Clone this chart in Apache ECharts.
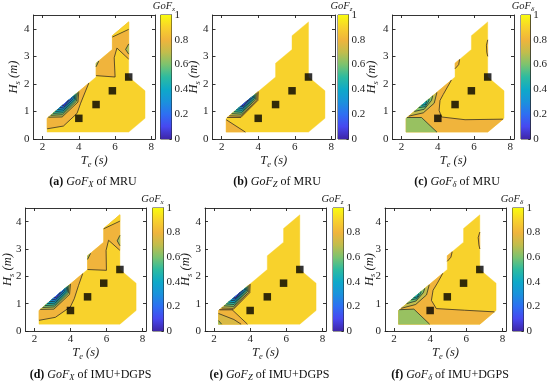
<!DOCTYPE html>
<html><head><meta charset="utf-8">
<script src="https://cdn.jsdelivr.net/npm/echarts@6/dist/echarts.min.js"></script>
<style>html,body{margin:0;padding:0;background:#fff}#c{width:550px;height:385px}</style>
</head><body><div id="c"></div>
<script>
// ---------- data ----------
const xTicks = [2, 4, 6, 8];
const yTicks = [0, 1, 2, 3, 4];
const cbTicks = [0, 0.2, 0.4, 0.6, 0.8, 1];
const xRange = [1.5, 8.2];
const yRange = [0, 4.5];
// measured sea-state domain (Te, Hs)
const domain = [[2.25,0.25],[6.75,0.25],[7.65,0.75],[7.65,1.75],[6.75,2.25],[6.75,4.25],[5.85,3.75],[5.85,3.25],[4.95,2.75],[4.95,2.25],[2.25,0.75]];
const baseLevel = 0.9;
// black squares
const markerTe = [4.0, 4.95, 5.85, 6.75];
const markerHs = [0.75, 1.25, 1.75, 2.25];
// contour regions: [level, number of leading points forming the contour line, polygon points (Te, Hs)]
const regionsA = [
  [0.8, 5, [[2.25,0.37],[3.15,0.47],[3.9,0.93],[4.1,1.3],[4.55,2.03],[2.25,0.75]]],
  [0.7, 4, [[2.32,0.79],[3.08,0.8],[3.95,1.34],[4.0,1.72]]],
  [0.6, 4, [[2.45,0.86],[3.1,0.88],[3.88,1.38],[3.92,1.68]]],
  [0.5, 4, [[2.58,0.93],[3.12,0.95],[3.82,1.42],[3.85,1.64]]],
  [0.4, 4, [[2.7,1.0],[3.14,1.02],[3.75,1.44],[3.78,1.6]]],
  [0.3, 4, [[2.82,1.07],[3.16,1.09],[3.68,1.46],[3.7,1.56]]],
  [0.2, 4, [[2.95,1.14],[3.18,1.16],[3.6,1.47],[3.62,1.51]]],
  [0.1, 3, [[3.08,1.21],[3.22,1.23],[3.45,1.42]]],
  [0.8, 5, [[4.95,2.3],[6.0,2.25],[5.95,2.95],[6.1,3.3],[6.75,2.9],[6.75,4.25],[5.85,3.75],[5.85,3.25],[4.95,2.75]]],
  [0.9, 2, [[5.85,3.7],[6.75,3.98],[6.75,4.25],[5.85,3.75]]],
  [0.66, 3, [[6.75,3.45],[6.58,3.25],[6.75,3.08]]],
  [0.66, 2, [[4.95,2.62],[5.1,2.83],[4.95,2.75]]]
];
const regionsB = [
  [0.8, 2, [[2.25,0.7],[3.3,0.25],[2.25,0.25]]],
  [0.8, 4, [[2.3,0.78],[3.05,0.78],[3.98,1.4],[4.0,1.72]]],
  [0.7, 4, [[2.42,0.84],[3.07,0.83],[3.92,1.42],[3.94,1.68]]],
  [0.6, 4, [[2.55,0.92],[3.09,0.9],[3.86,1.45],[3.88,1.65]]],
  [0.5, 4, [[2.68,0.99],[3.11,0.97],[3.8,1.47],[3.82,1.61]]],
  [0.4, 4, [[2.8,1.06],[3.13,1.04],[3.74,1.49],[3.76,1.58]]],
  [0.3, 4, [[2.92,1.12],[3.15,1.11],[3.68,1.5],[3.69,1.55]]],
  [0.2, 3, [[3.02,1.18],[3.17,1.17],[3.6,1.5]]],
  [0.1, 3, [[3.1,1.22],[3.2,1.22],[3.45,1.42]]]
];
const regionsC = [
  [0.8, 7, [[4.75,2.14],[4.3,1.62],[4.12,1.4],[4.07,1.04],[4.2,0.8],[5.5,0.7],[7.6,0.72],[6.75,0.25],[2.25,0.25],[2.25,0.75]]],
  [0.64, 3, [[2.3,0.78],[3.1,0.78],[3.95,0.25],[2.25,0.25],[2.25,0.75]]],
  [0.7, 4, [[2.4,0.83],[3.2,0.95],[3.8,1.3],[3.95,1.69]]],
  [0.6, 4, [[2.7,1.0],[3.25,1.08],[3.65,1.4],[3.72,1.57]]],
  [0.5, 4, [[2.95,1.14],[3.3,1.17],[3.5,1.38],[3.52,1.455]]],
  [0.42, 3, [[3.1,1.22],[3.32,1.25],[3.38,1.378]]],
  [0.8, 3, [[4.95,2.55],[5.15,2.7],[5.2,2.89],[4.95,2.75]]],
  [0.8, 4, [[6.75,3.6],[6.68,3.4],[6.7,3.15],[6.75,3.0]]]
];
const regionsD = [
  [0.8, 6, [[2.25,0.39],[3.16,0.5],[3.99,0.88],[4.21,1.18],[4.45,1.67],[4.68,2.1],[2.25,0.75]]],
  [0.7, 4, [[2.32,0.79],[3.08,0.8],[3.95,1.34],[4.0,1.72]]],
  [0.6, 4, [[2.45,0.86],[3.1,0.88],[3.88,1.38],[3.92,1.68]]],
  [0.5, 4, [[2.58,0.93],[3.12,0.95],[3.82,1.42],[3.85,1.64]]],
  [0.4, 4, [[2.7,1.0],[3.14,1.02],[3.75,1.44],[3.78,1.6]]],
  [0.3, 4, [[2.82,1.07],[3.16,1.09],[3.68,1.46],[3.7,1.56]]],
  [0.2, 4, [[2.95,1.14],[3.18,1.16],[3.6,1.47],[3.62,1.51]]],
  [0.1, 3, [[3.08,1.21],[3.22,1.23],[3.45,1.42]]],
  [0.8, 5, [[4.95,2.25],[6.0,2.22],[5.98,2.95],[6.12,3.32],[6.75,2.95],[6.75,4.25],[5.85,3.75],[5.85,3.25],[4.95,2.75]]],
  [0.9, 2, [[5.85,3.74],[6.75,4.02],[6.75,4.25],[5.85,3.75]]],
  [0.66, 3, [[6.75,3.5],[6.6,3.3],[6.75,3.12]]],
  [0.66, 2, [[4.95,2.62],[5.12,2.84],[4.95,2.75]]]
];
const regionsE = [
  [0.8, 3, [[2.3,0.78],[3.0,0.78],[3.85,0.25],[2.25,0.25],[2.25,0.75]]],
  [0.75, 3, [[2.25,0.64],[3.1,0.42],[3.5,0.25],[2.25,0.25]]],
  [0.64, 2, [[2.25,0.38],[2.42,0.25],[2.25,0.25]]],
  [0.8, 4, [[2.3,0.78],[3.05,0.78],[3.98,1.4],[4.0,1.72]]],
  [0.7, 4, [[2.42,0.84],[3.07,0.83],[3.92,1.42],[3.94,1.68]]],
  [0.6, 4, [[2.55,0.92],[3.09,0.9],[3.86,1.45],[3.88,1.65]]],
  [0.5, 4, [[2.68,0.99],[3.11,0.97],[3.8,1.47],[3.82,1.61]]],
  [0.4, 4, [[2.8,1.06],[3.13,1.04],[3.74,1.49],[3.76,1.58]]],
  [0.3, 4, [[2.92,1.12],[3.15,1.11],[3.68,1.5],[3.69,1.55]]],
  [0.2, 3, [[3.02,1.18],[3.17,1.17],[3.6,1.5]]],
  [0.1, 3, [[3.1,1.22],[3.2,1.22],[3.45,1.42]]]
];
const regionsF = [
  [0.8, 7, [[4.7,2.11],[4.4,1.75],[4.16,1.49],[4.07,1.12],[4.34,0.82],[5.91,0.76],[7.56,0.7],[6.75,0.25],[2.25,0.25],[2.25,0.75]]],
  [0.64, 3, [[2.3,0.78],[3.1,0.8],[3.97,0.25],[2.25,0.25],[2.25,0.75]]],
  [0.7, 4, [[2.4,0.83],[3.2,0.97],[3.8,1.32],[3.95,1.69]]],
  [0.6, 4, [[2.7,1.0],[3.22,1.1],[3.62,1.4],[3.7,1.56]]],
  [0.5, 4, [[2.95,1.14],[3.27,1.18],[3.48,1.38],[3.5,1.445]]],
  [0.42, 3, [[3.08,1.21],[3.3,1.25],[3.36,1.367]]],
  [0.8, 3, [[4.95,2.55],[5.15,2.7],[5.22,2.9],[4.95,2.75]]],
  [0.8, 4, [[6.75,3.62],[6.66,3.42],[6.7,3.15],[6.75,3.0]]]
];
const panelLetters = ['a','b','c','d','e','f'];
const captionSub = ['X','Z','δ','X','Z','δ'];
const barSub = ['x','z','δ','x','z','δ'];
const sensorNames = ['MRU','MRU','MRU','IMU+DGPS','IMU+DGPS','IMU+DGPS'];
const allRegions = [regionsA, regionsB, regionsC, regionsD, regionsE, regionsF];

// ---------- styling / layout ----------
const parula = [[0,'#3e26a8'],[0.1,'#4748f0'],[0.2,'#2e6ff2'],[0.3,'#1a92dc'],[0.4,'#0ea9c8'],[0.5,'#2dbba0'],[0.6,'#7cc36f'],[0.7,'#c2bd4c'],[0.8,'#f0b43c'],[0.9,'#f8d22c'],[1,'#f9fb0e']];
function hex2rgb(h){return [parseInt(h.slice(1,3),16),parseInt(h.slice(3,5),16),parseInt(h.slice(5,7),16)];}
function cmap(v){
  for(let i=1;i<parula.length;i++){
    if(v<=parula[i][0]){
      const a=parula[i-1],b=parula[i];const t=(v-a[0])/(b[0]-a[0]);
      const ca=hex2rgb(a[1]),cb=hex2rgb(b[1]);
      return 'rgb('+ca.map((c,k)=>Math.round(c+(cb[k]-c)*t)).join(',')+')';
    }
  }
  return parula[parula.length-1][1];
}
const SERIF = '"Liberation Serif","DejaVu Serif",serif';
const AX = '#1e1e1e';
const plotBoxes = [
  {l:33.5,t:15,w:121.5,h:124},{l:212.5,t:15,w:122.5,h:124},{l:392.5,t:15,w:121.5,h:124},
  {l:25.5,t:208,w:120.5,h:123},{l:205,t:208,w:121,h:123},{l:385,t:208,w:121,h:123}];
const barBoxes = [{l:160.5,w:11},{l:338,w:10.5},{l:521,w:10},{l:152.5,w:11},{l:333,w:10.5},{l:512.5,w:11}];
const txt = [
  {hsX:14,capX:93,btX:164},{hsX:194,capX:277,btX:341.5},{hsX:372,capX:457,btX:523},
  {hsX:8,capX:90.5,btX:152.5},{hsX:186,capX:269.5,btX:332.5},{hsX:369.5,capX:450,btX:512}];

const grid=[], xAxis=[], yAxis=[], series=[], graphic=[];
const tickStyle = {color:AX,width:0.9};
const TICKFS = 11;
plotBoxes.forEach((b,i)=>{
  grid.push({left:b.l, top:b.t, width:b.w, height:b.h});
  const common = {gridIndex:i, type:'value', splitLine:{show:false}, axisLine:{show:true,onZero:false,lineStyle:{color:AX,width:0.9}}};
  xAxis.push(Object.assign({}, common, {min:xRange[0], max:xRange[1], position:'bottom',
    axisTick:{show:true,inside:true,length:3,customValues:xTicks,lineStyle:tickStyle},
    axisLabel:{customValues:xTicks,fontFamily:SERIF,fontSize:TICKFS,color:AX,margin:3}}));
  xAxis.push(Object.assign({}, common, {min:xRange[0], max:xRange[1], position:'top',
    axisTick:{show:true,inside:true,length:3,customValues:xTicks,lineStyle:tickStyle}, axisLabel:{show:false}}));
  yAxis.push(Object.assign({}, common, {min:yRange[0], max:yRange[1], position:'left',
    axisTick:{show:true,inside:true,length:3,customValues:yTicks,lineStyle:tickStyle},
    axisLabel:{customValues:yTicks,fontFamily:SERIF,fontSize:TICKFS,color:AX,margin:4}}));
  yAxis.push(Object.assign({}, common, {min:yRange[0], max:yRange[1], position:'right',
    axisTick:{show:true,inside:true,length:3,customValues:yTicks,lineStyle:tickStyle}, axisLabel:{show:false}}));

  const all = [[baseLevel, 0, domain]].concat(allRegions[i]);
  series.push({type:'custom', xAxisIndex:2*i, yAxisIndex:2*i, silent:true, animation:false, z:2,
    data: all.map((r,k)=>[k,0]),
    renderItem(params, api){
      const r = all[api.value(0)];
      const pts = r[2].map(p=>api.coord(p));
      const col = cmap(r[0]);
      const children=[{type:'polygon', shape:{points:pts}, style:{fill:col, stroke:col, lineWidth:0.4}}];
      if(r[1]>1) children.push({type:'polyline', shape:{points:pts.slice(0,r[1])}, style:{stroke:'#1e1e1e', lineWidth:0.7, fill:null}});
      return {type:'group', children};
    }});
  series.push({type:'scatter', xAxisIndex:2*i, yAxisIndex:2*i, symbol:'rect', symbolSize:7.5, silent:true, animation:false, z:3,
    itemStyle:{color:'#000'}, data: markerTe.map((t,k)=>[t, markerHs[k]])});

  // axis titles & captions
  const t = txt[i];
  const cx = b.l + b.w/2, cy = b.t + b.h/2;
  const row2 = i>=3;
  graphic.push({type:'text', x:cx, y: row2?353:161, silent:true, style:{
    text:'{i|T}{s|e}{i| (s)}', align:'center', verticalAlign:'middle',
    rich:{i:{fontFamily:SERIF,fontStyle:'italic',fontSize:12.5,fill:'#222'}, s:{fontFamily:SERIF,fontStyle:'italic',fontSize:8.5,fill:'#222',padding:[7,0,0,0]}}}});
  graphic.push({type:'text', x:t.hsX, y:cy, rotation:Math.PI/2, silent:true, style:{
    text:'{i|H}{s|s}{i| (m)}', align:'center', verticalAlign:'middle',
    rich:{i:{fontFamily:SERIF,fontStyle:'italic',fontSize:12.5,fill:'#222'}, s:{fontFamily:SERIF,fontStyle:'italic',fontSize:8.5,fill:'#222',padding:[7,0,0,0]}}}});
  graphic.push({type:'text', x:t.capX, y: row2?375:182, silent:true, style:{
    text:'{b|('+panelLetters[i]+')}{r| }{i|GoF}{s|'+captionSub[i]+'}{r| of '+sensorNames[i]+'}', align:'center', verticalAlign:'middle',
    rich:{b:{fontFamily:SERIF,fontWeight:'bold',fontSize:12,fill:'#111'}, r:{fontFamily:SERIF,fontSize:12,fill:'#111'},
          i:{fontFamily:SERIF,fontStyle:'italic',fontSize:12,fill:'#111'}, s:{fontFamily:SERIF,fontStyle:'italic',fontSize:8.5,fill:'#111',padding:[6,0,0,0]}}}});
  graphic.push({type:'text', x:t.btX, y: row2?199.5:6.5, silent:true, style:{
    text:'{i|GoF}{s|'+barSub[i]+'}', align:'center', verticalAlign:'middle',
    rich:{i:{fontFamily:SERIF,fontStyle:'italic',fontSize:10.5,fill:'#222'}, s:{fontFamily:SERIF,fontStyle:'italic',fontSize:7,fill:'#222',padding:[5,0,0,0]}}}});
});

// colorbars
barBoxes.forEach((c,j)=>{
  const b = plotBoxes[j];
  const gi = 6 + j;
  grid.push({left:c.l, top:b.t, width:c.w, height:b.h, show:true, borderColor:AX, borderWidth:0.9, backgroundColor:'transparent'});
  xAxis.push({gridIndex:gi, type:'value', min:0, max:1, show:false});
  yAxis.push({gridIndex:gi, type:'value', min:0, max:1, interval:0.2, position:'right', splitLine:{show:false},
    axisLine:{show:true,onZero:false,lineStyle:{color:AX,width:0.9}},
    axisTick:{show:true,inside:true,length:2,lineStyle:tickStyle},
    axisLabel:{fontFamily:SERIF,fontSize:TICKFS,color:AX,margin:3,formatter:v=>String(+(+v).toFixed(1))}});
  series.push({type:'custom', xAxisIndex:12+j, yAxisIndex:12+j, silent:true, animation:false, z:1,
    data:[[0.5,0.5]],
    renderItem(params, api){
      const p0 = api.coord([0,0]), p1 = api.coord([1,1]);
      return {type:'rect', shape:{x:p0[0], y:p1[1], width:p1[0]-p0[0], height:p0[1]-p1[1]},
        style:{fill:new echarts.graphic.LinearGradient(0,1,0,0, parula.map(s=>({offset:s[0],color:s[1]})))}};
    }});
});

const chart = echarts.init(document.getElementById('c'), null, {renderer:'canvas'});
chart.setOption({animation:false, backgroundColor:'#fff', grid, xAxis, yAxis, series, graphic});
</script></body></html>
